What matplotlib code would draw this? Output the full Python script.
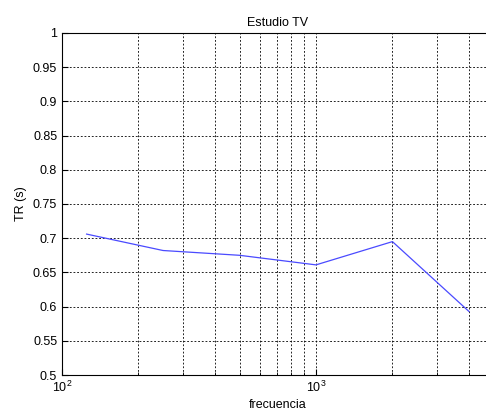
import numpy as np
import matplotlib
matplotlib.use('Agg')
import matplotlib.pyplot as plt
from matplotlib.ticker import FormatStrFormatter, LogLocator, NullFormatter

plt.rcParams['font.family'] = ['Liberation Sans', 'DejaVu Sans']

frecuencia = [125, 250, 500, 1000, 2000, 4000]
tr = [0.706, 0.682, 0.675, 0.661, 0.695, 0.593]
yticks = np.arange(0.5, 1.0001, 0.05)

fig = plt.figure(figsize=(4.86, 4.16), dpi=100)
# right edge of the axes sits just past the picture (cropped like the original)
ax = fig.add_axes([62 / 486, 41 / 416, 431.5 / 486, 342 / 416])

ax.semilogx(frecuencia, tr, color='#4a4aff', lw=0.9)

ax.set_xlim(100, 5000)
ax.set_ylim(0.5, 1)
ax.set_yticks(yticks)
ax.yaxis.set_major_formatter(FormatStrFormatter('%g'))
ax.xaxis.set_major_locator(LogLocator(base=10))
ax.xaxis.set_minor_locator(LogLocator(base=10, subs=np.arange(2, 10)))
ax.xaxis.set_minor_formatter(NullFormatter())

grid_style = dict(color='black', linestyle=(0, (2.2, 2.2)), linewidth=0.6)
ax.grid(True, which='major', axis='both', **grid_style)
ax.grid(True, which='minor', axis='x', **grid_style)

ax.tick_params(which='both', direction='in', labelsize=9, colors='black')
ax.tick_params(which='major', length=4)
ax.tick_params(which='minor', length=2)
for s in ax.spines.values():
    s.set_linewidth(0.8)

ax.set_title('Estudio TV', fontsize=9, pad=5)
ax.set_xlabel('frecuencia', fontsize=9, labelpad=3)
ax.set_ylabel('TR (s)', fontsize=9, labelpad=4)

fig.savefig('out.png', dpi=100)
